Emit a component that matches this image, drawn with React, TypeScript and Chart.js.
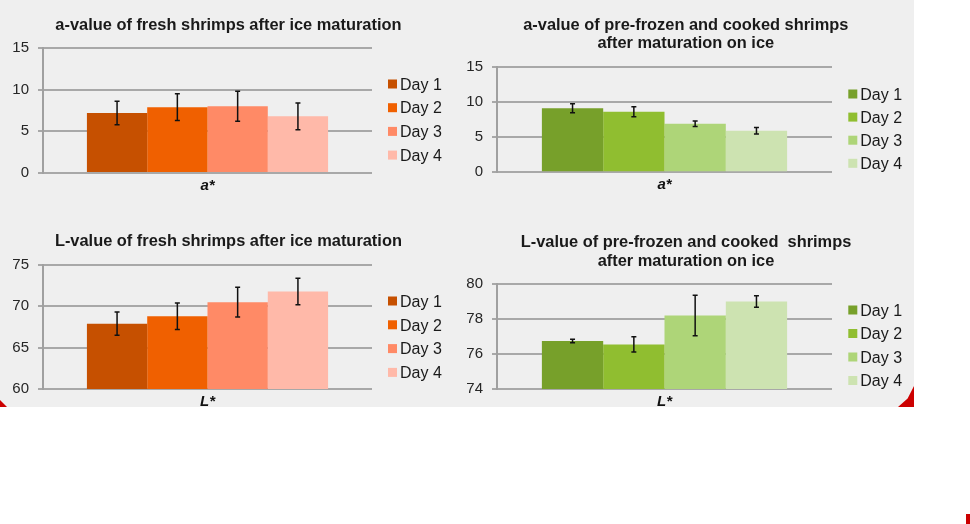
import React, { useEffect, useRef } from 'react';
import { Chart, registerables } from 'chart.js';

Chart.register(...registerables);
Chart.defaults.font.family = "'Liberation Sans', Arial, sans-serif";

// ---------- data ----------
const dayLabels = ['Day 1', 'Day 2', 'Day 3', 'Day 4'];
const categoriesA = ['a*'];
const categoriesL = ['L*'];

const freshA = [7.2, 7.9, 8.0, 6.8];
const freshAErr = [1.4, 1.6, 1.8, 1.6];
const cookedA = [9.1, 8.6, 6.9, 5.9];
const cookedAErr = [0.65, 0.7, 0.4, 0.45];
const freshL = [67.9, 68.8, 70.5, 71.8];
const freshLErr = [1.4, 1.6, 1.8, 1.6];
const cookedL = [76.75, 76.55, 78.2, 79.0];
const cookedLErr = [0.1, 0.43, 1.16, 0.33];

const ticksA = [0, 5, 10, 15];
const ticksFreshL = [60, 65, 70, 75];
const ticksCookedL = [74, 76, 78, 80];

const titleFreshA = ['a-value of fresh shrimps after ice maturation'];
const titleCookedA = ['a-value of pre-frozen and cooked shrimps', 'after maturation on ice'];
const titleFreshL = ['L-value of fresh shrimps after ice maturation'];
const titleCookedL = ['L-value of pre-frozen and cooked  shrimps', 'after maturation on ice'];

const orangeColors = ['#C65000', '#F06000', '#FF8A66', '#FFB9A9'];
const greenColors = ['#77A02A', '#90BE30', '#AED578', '#CDE3B1'];

// ---------- layout ----------
type Pad = { left: number; right: number; top: number; bottom: number };
type PanelCfg = {
  key: string;
  left: number;
  top: number;
  width: number;
  height: number;
  pad: Pad;
  yWidth: number;
  xHeight: number;
  title: string[];
  titleX: number;
  titleBaselines: number[];
  legendX: number;
  legendY0: number;
  legendDy: number;
  categories: string[];
  values: number[];
  errors: number[];
  colors: string[];
  ticks: number[];
  catPct: number;
};

const FONT = "'Liberation Sans', Arial, sans-serif";

const panels: PanelCfg[] = [
  {
    key: 'freshA', left: 0, top: 0, width: 457, height: 205,
    pad: { left: 0, right: 85, top: 48, bottom: 2 }, yWidth: 43, xHeight: 30,
    title: titleFreshA, titleX: 228.4, titleBaselines: [30],
    legendX: 388, legendY0: 84, legendDy: 23.7,
    categories: categoriesA, values: freshA, errors: freshAErr, colors: orangeColors,
    ticks: ticksA, catPct: 0.733,
  },
  {
    key: 'cookedA', left: 457, top: 0, width: 457, height: 205,
    pad: { left: 0, right: 82, top: 66.7, bottom: 2 }, yWidth: 40, xHeight: 30.7,
    title: titleCookedA, titleX: 228.8, titleBaselines: [29.5, 48],
    legendX: 391.3, legendY0: 94, legendDy: 23.1,
    categories: categoriesA, values: cookedA, errors: cookedAErr, colors: greenColors,
    ticks: ticksA, catPct: 0.732,
  },
  {
    key: 'freshL', left: 0, top: 205, width: 457, height: 202,
    pad: { left: 0, right: 85, top: 60, bottom: 0 }, yWidth: 43, xHeight: 17,
    title: titleFreshL, titleX: 228.4, titleBaselines: [41],
    legendX: 388, legendY0: 96, legendDy: 23.8,
    categories: categoriesL, values: freshL, errors: freshLErr, colors: orangeColors,
    ticks: ticksFreshL, catPct: 0.733,
  },
  {
    key: 'cookedL', left: 457, top: 205, width: 457, height: 202,
    pad: { left: 0, right: 82, top: 79, bottom: 0 }, yWidth: 40, xHeight: 17.7,
    title: titleCookedL, titleX: 229, titleBaselines: [41.7, 60.7],
    legendX: 391.3, legendY0: 105, legendDy: 23.5,
    categories: categoriesL, values: cookedL, errors: cookedLErr, colors: greenColors,
    ticks: ticksCookedL, catPct: 0.732,
  },
];

function makePlugins(cfg: PanelCfg) {
  const errorBars = {
    id: 'errorBars_' + cfg.key,
    afterDatasetsDraw(chart: any) {
      const { ctx } = chart;
      const yScale = chart.scales.y;
      chart.data.datasets.forEach((ds: any, i: number) => {
        const meta = chart.getDatasetMeta(i);
        meta.data.forEach((el: any, j: number) => {
          const v = ds.data[j] as number;
          const e = ds.errorBars[j] as number;
          const yTop = yScale.getPixelForValue(v + e);
          const yBot = yScale.getPixelForValue(v - e);
          const x = el.x;
          const cap = 2.5;
          ctx.save();
          ctx.strokeStyle = '#111111';
          ctx.lineWidth = 1.5;
          ctx.beginPath();
          ctx.moveTo(x, yTop);
          ctx.lineTo(x, yBot);
          ctx.moveTo(x - cap, yTop);
          ctx.lineTo(x + cap, yTop);
          ctx.moveTo(x - cap, yBot);
          ctx.lineTo(x + cap, yBot);
          ctx.stroke();
          ctx.restore();
        });
      });
    },
  };
  const title = {
    id: 'panelTitle_' + cfg.key,
    afterDraw(chart: any) {
      const { ctx } = chart;
      ctx.save();
      ctx.fillStyle = '#1a1a1a';
      ctx.font = `bold 16.4px ${FONT}`;
      ctx.textAlign = 'center';
      ctx.textBaseline = 'alphabetic';
      cfg.title.forEach((line, i) => {
        ctx.fillText(line, cfg.titleX, cfg.titleBaselines[i]);
      });
      ctx.restore();
    },
  };
  const legend = {
    id: 'panelLegend_' + cfg.key,
    afterDraw(chart: any) {
      const { ctx } = chart;
      const box = 9;
      ctx.save();
      ctx.font = `16px ${FONT}`;
      ctx.textAlign = 'left';
      ctx.textBaseline = 'alphabetic';
      chart.data.datasets.forEach((ds: any, i: number) => {
        const cy = cfg.legendY0 + i * cfg.legendDy;
        ctx.fillStyle = ds.backgroundColor;
        ctx.fillRect(cfg.legendX, cy - box / 2, box, box);
        ctx.fillStyle = '#1a1a1a';
        ctx.fillText(ds.label, cfg.legendX + box + 3, cy + 5.7);
      });
      ctx.restore();
    },
  };
  return [errorBars, title, legend];
}

function Panel({ cfg }: { cfg: PanelCfg }) {
  const ref = useRef<HTMLCanvasElement | null>(null);
  useEffect(() => {
    if (!ref.current) return;
    const ticks = cfg.ticks;
    const chart = new Chart(ref.current, {
      type: 'bar',
      data: {
        labels: cfg.categories,
        datasets: dayLabels.map((label, i) => ({
          label,
          data: [cfg.values[i]],
          errorBars: [cfg.errors[i]],
          backgroundColor: cfg.colors[i],
          borderWidth: 0,
          categoryPercentage: cfg.catPct,
          barPercentage: 1,
        })) as any,
      },
      options: {
        animation: false,
        responsive: false,
        maintainAspectRatio: false,
        devicePixelRatio: 1,
        layout: { padding: cfg.pad },
        plugins: {
          legend: { display: false },
          title: { display: false },
          tooltip: { enabled: false },
        },
        scales: {
          x: {
            type: 'category',
            offset: true,
            grid: { display: false, drawTicks: false },
            border: { display: false },
            ticks: {
              color: '#111111',
              padding: 4,
              font: { size: 15, weight: 'bold', style: 'italic', family: FONT },
            },
            afterFit: (s: any) => {
              s.height = cfg.xHeight;
            },
          },
          y: {
            min: ticks[0],
            max: ticks[ticks.length - 1],
            ticks: {
              stepSize: ticks[1] - ticks[0],
              color: '#262626',
              padding: 9,
              font: { size: 15, family: FONT },
            },
            grid: { color: '#a8a8a8', lineWidth: 2, tickLength: 5, drawTicks: true },
            border: { display: true, color: '#a0a0a0', width: 2 },
            afterFit: (s: any) => {
              s.width = cfg.yWidth;
            },
          },
        },
      } as any,
      plugins: makePlugins(cfg) as any,
    });
    return () => chart.destroy();
  }, [cfg]);
  return (
    <canvas
      ref={ref}
      width={cfg.width}
      height={cfg.height}
      style={{
        position: 'absolute',
        left: cfg.left,
        top: cfg.top,
        width: cfg.width,
        height: cfg.height,
      }}
    />
  );
}

export default function App() {
  return (
    <div style={{ position: 'absolute', left: 0, top: 0, width: 970, height: 524, overflow: 'hidden', background: '#ffffff' }}>
      <div style={{ position: 'absolute', left: 0, top: 0, width: 914, height: 407, background: '#efefef', overflow: 'hidden' }}>
        {panels.map((p) => (
          <Panel key={p.key} cfg={p} />
        ))}
        <div
          style={{
            position: 'absolute', left: 0, top: 400, width: 7, height: 7, background: '#cc0000',
            clipPath: 'polygon(0 0, 100% 100%, 0 100%)',
          }}
        />
        <div
          style={{
            position: 'absolute', left: 898, top: 386, width: 16, height: 21, background: '#cc0000',
            clipPath: 'polygon(100% 0, 100% 100%, 0 100%, 60% 60%)',
          }}
        />
      </div>
      <div style={{ position: 'absolute', left: 966, top: 514, width: 4, height: 10, background: '#cc0000' }} />
    </div>
  );
}
